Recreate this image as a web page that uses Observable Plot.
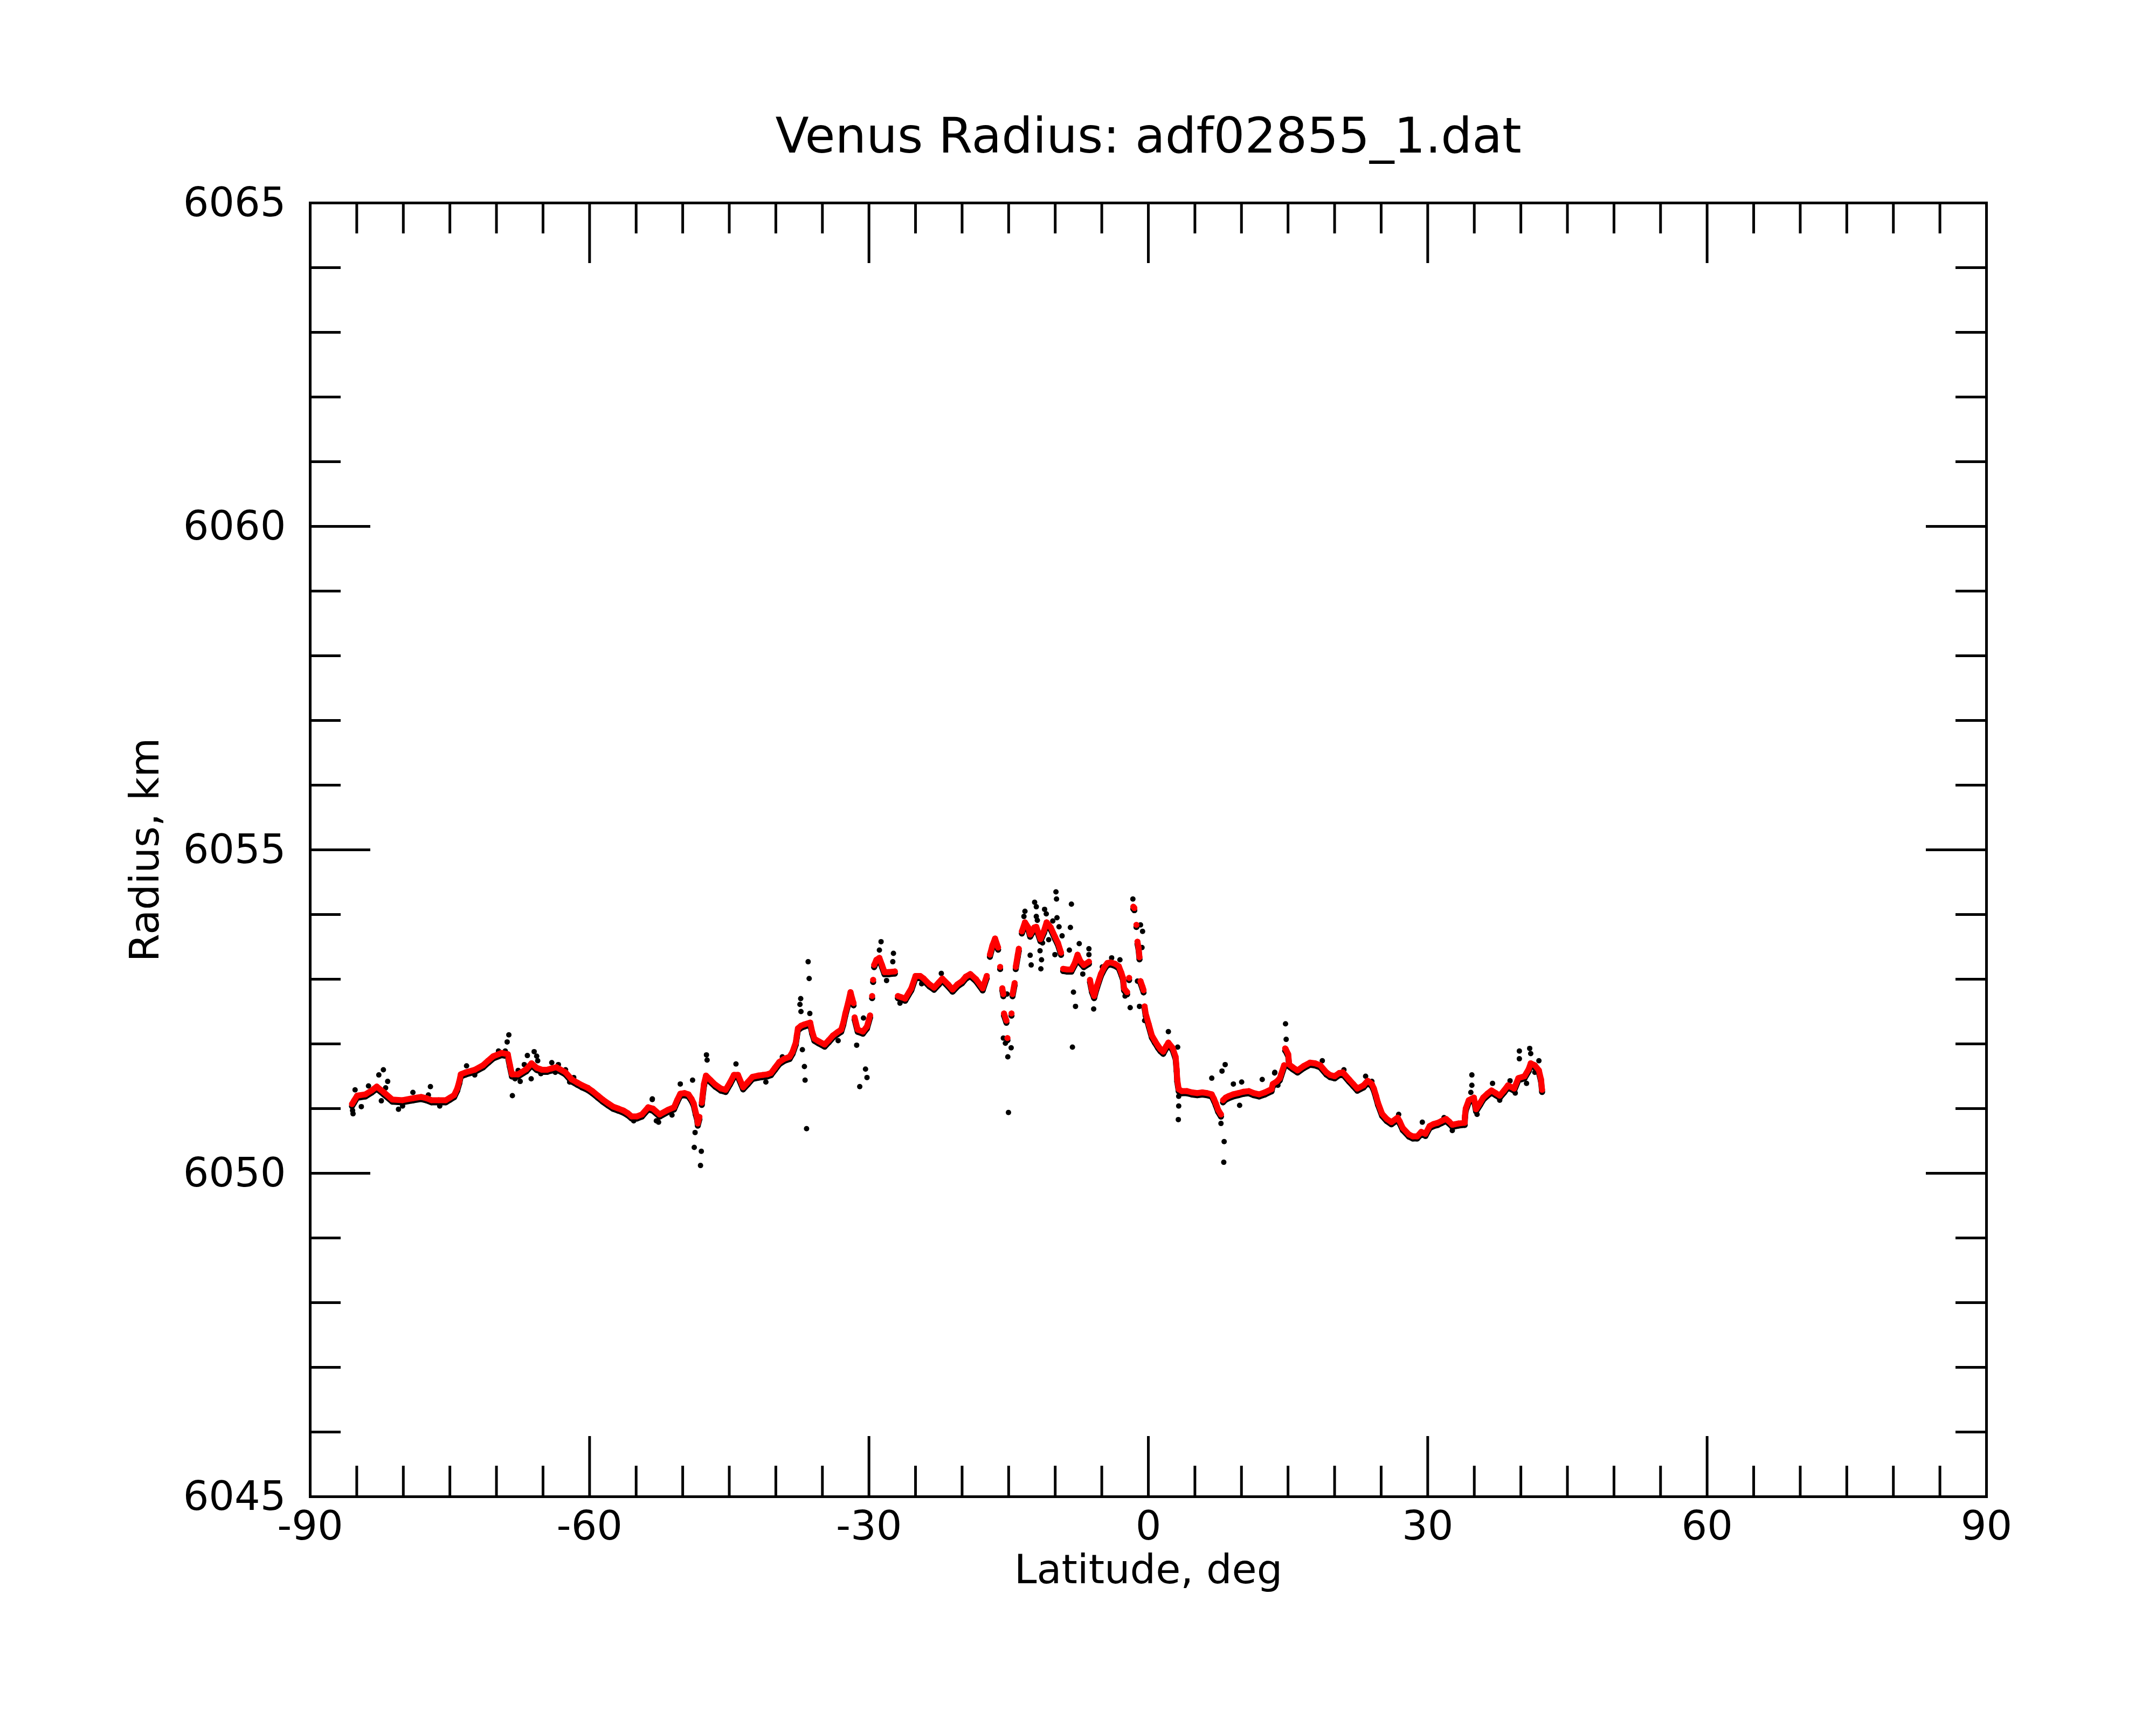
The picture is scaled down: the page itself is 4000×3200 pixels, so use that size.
<!DOCTYPE html>
<html>
<head>
<meta charset="utf-8">
<script src="https://cdn.jsdelivr.net/npm/d3@7"></script>
<script src="https://cdn.jsdelivr.net/npm/@observablehq/plot@0.6"></script>
<style>
  html, body { margin: 0; padding: 0; background: white; }
  svg { display: block; }
</style>
</head>
<body>
<div id="chart"></div>
<script>
const titleText = "Venus Radius: adf02855_1.dat";
const xLabel = "Latitude, deg";
const yLabel = "Radius, km";

const xMajorTicks = [-90, -60, -30, 0, 30, 60, 90];
const xMinorTicks = [-85, -80, -75, -70, -65, -55, -50, -45, -40, -35, -25, -20, -15, -10, -5,
  5, 10, 15, 20, 25, 35, 40, 45, 50, 55, 65, 70, 75, 80, 85];
const yMajorTicks = [6045, 6050, 6055, 6060, 6065];
const yMinorTicks = [6046, 6047, 6048, 6049, 6051, 6052, 6053, 6054, 6056, 6057, 6058, 6059,
  6061, 6062, 6063, 6064];

// smoothed radius (red)
const latRed = [
  -85.51, -85.3, -84.96, -84.07, -83.4, -82.85, -82.08, -81.19, -80.08, -78.97, -78.09, -77.5, -76.98, -76.2, -75.43,
  -74.98, -74.54, -74.21, -73.99, -73.83, -73.3, -72.33, -71.44, -70.9, -70.33, -69.45, -68.78, -68.56, -68.34, -67.67,
  -66.79, -66.23, -65.68, -65.1, -64.57, -64.1, -63.57, -62.58, -61.91, -61.3, -60.8, -60.2, -59.7, -59.1, -58.59,
  -58.0, -57.48, -56.9, -56.37, -55.9, -55.49, -54.9, -54.38, -53.71, -53.2, -52.48, -51.59, -50.93, -50.6, -50.26,
  -49.8, -49.38, -49.05, -48.82, -48.6, -48.45, -48.38, -48.2, -47.95, -47.87, -47.72, -47.5, -47.0, -46.5, -45.9,
  -45.39, -44.9, -44.5, -44.06, -43.51, -43.0, -42.51, -41.9, -41.4, -40.9, -40.52, -40.1, -39.63, -39.1, -38.52,
  -38.2, -37.86, -37.75, -37.63, -37.3, -36.97, -36.31, -36.1, -35.86, -35.4, -34.76, -34.3, -33.87, -33.4, -32.98,
  -32.75, -32.54, -32.25, -31.98, -31.8, -31.65, -31.54, -31.21, -30.65, -30.21, -29.88, -29.66, -29.55, -29.44, -29.2,
  -28.88, -28.6, -28.33, -27.88, -27.22, -26.89, -26.5, -26.11, -25.45, -25.0, -24.5, -24.12, -23.5, -23.01, -22.5,
  -22.12, -21.5, -21.02, -20.5, -20.0, -19.6, -19.12, -18.5, -17.79, -17.35, -17.01, -16.75, -16.46, -16.13, -15.91,
  -15.68, -15.57, -15.5, -15.24, -15.13, -14.69, -14.58, -14.36, -14.24, -14.02, -13.91, -13.58, -13.25, -12.9, -12.69,
  -12.25, -12.03, -11.59, -11.2, -10.92, -10.48, -10.0, -9.7, -9.37, -9.15, -8.7, -8.26, -7.9, -7.6, -7.3,
  -6.93, -6.38, -6.27, -6.05, -5.82, -5.6, -5.49, -5.1, -4.72, -4.4, -4.05, -3.6, -3.17, -2.9, -2.72,
  -2.61, -2.28, -2.06, -1.61, -1.5, -1.28, -1.17, -1.05, -0.95, -0.84, -0.62, -0.51, -0.4, -0.29, 0.05,
  0.38, 0.7, 1.04, 1.3, 1.6, 1.9, 2.15, 2.6, 2.93, 3.04, 3.1, 3.26, 3.6, 4.15, 4.7,
  5.25, 5.8, 6.3, 6.81, 7.05, 7.25, 7.5, 7.8, 8.02, 8.3, 8.58, 9.1, 9.69, 10.2, 10.79,
  11.3, 11.9, 12.5, 13.23, 13.36, 13.8, 14.12, 14.25, 14.58, 14.69, 14.75, 15.02, 15.13, 15.5, 16.02,
  16.7, 17.35, 17.9, 18.46, 19.12, 19.5, 20.01, 20.5, 20.89, 21.56, 22.0, 22.44, 23.11, 23.55, 24.0,
  24.22, 24.45, 24.66, 25.1, 25.6, 26.1, 26.77, 27.0, 27.32, 27.98, 28.4, 28.87, 29.31, 29.76, 30.2,
  30.6, 31.09, 31.5, 31.97, 32.3, 32.64, 33.3, 33.97, 34.0, 34.08, 34.41, 34.96, 35.19, 35.63, 35.96,
  36.4, 36.85, 37.3, 37.73, 38.2, 38.62, 39.28, 39.73, 40.39, 40.84, 41.06, 41.5, 41.94, 42.17, 42.28
];
const radRed = [
  6051.07, 6051.12, 6051.20, 6051.22, 6051.28, 6051.34, 6051.25, 6051.14, 6051.13, 6051.16, 6051.18, 6051.16, 6051.13, 6051.13, 6051.13,
  6051.17, 6051.21, 6051.31, 6051.42, 6051.53, 6051.56, 6051.60, 6051.67, 6051.74, 6051.81, 6051.86, 6051.84, 6051.68, 6051.53, 6051.53,
  6051.61, 6051.70, 6051.63, 6051.60, 6051.60, 6051.62, 6051.64, 6051.56, 6051.45, 6051.40, 6051.36, 6051.32, 6051.27, 6051.20, 6051.14,
  6051.08, 6051.03, 6051.00, 6050.97, 6050.93, 6050.88, 6050.88, 6050.91, 6051.02, 6051.00, 6050.91, 6050.98, 6051.02, 6051.13, 6051.23,
  6051.24, 6051.22, 6051.15, 6051.08, 6050.94, 6050.86, 6050.77, 6050.87, 6051.09, 6051.20, 6051.38, 6051.51, 6051.44, 6051.37, 6051.31,
  6051.29, 6051.41, 6051.52, 6051.52, 6051.33, 6051.41, 6051.49, 6051.51, 6051.52, 6051.53, 6051.55, 6051.63, 6051.72, 6051.77, 6051.80,
  6051.88, 6052.02, 6052.13, 6052.24, 6052.28, 6052.30, 6052.33, 6052.19, 6052.08, 6052.04, 6051.99, 6052.06, 6052.13, 6052.18, 6052.22,
  6052.33, 6052.47, 6052.63, 6052.80, 6052.70, 6052.63, 6052.41, 6052.22, 6052.19, 6052.27, 6052.44, 6052.74, 6052.99, 6053.22, 6053.30,
  6053.33, 6053.22, 6053.11, 6053.11, 6053.12, 6052.74, 6052.72, 6052.70, 6052.86, 6053.05, 6053.05, 6053.01, 6052.92, 6052.87, 6052.95,
  6053.01, 6052.92, 6052.84, 6052.92, 6052.97, 6053.04, 6053.08, 6053.00, 6052.86, 6053.05, 6053.38, 6053.52, 6053.63, 6053.49, 6053.19,
  6052.86, 6052.77, 6052.47, 6052.36, 6052.09, 6052.47, 6052.77, 6052.94, 6053.19, 6053.38, 6053.47, 6053.74, 6053.88, 6053.80, 6053.69,
  6053.80, 6053.81, 6053.62, 6053.75, 6053.88, 6053.80, 6053.65, 6053.56, 6053.41, 6053.16, 6053.15, 6053.15, 6053.25, 6053.38, 6053.28,
  6053.22, 6053.27, 6052.99, 6052.83, 6052.74, 6052.86, 6052.91, 6053.08, 6053.19, 6053.25, 6053.26, 6053.24, 6053.20, 6053.10, 6053.02,
  6052.86, 6052.80, 6053.02, 6054.12, 6054.10, 6053.84, 6053.58, 6053.49, 6053.34, 6052.97, 6052.88, 6052.83, 6052.58, 6052.47, 6052.30,
  6052.13, 6052.05, 6051.97, 6051.92, 6051.88, 6051.96, 6052.02, 6051.94, 6051.80, 6051.61, 6051.45, 6051.30, 6051.27, 6051.27, 6051.25,
  6051.24, 6051.25, 6051.24, 6051.22, 6051.15, 6051.08, 6050.98, 6050.91, 6051.13, 6051.17, 6051.19, 6051.22, 6051.24, 6051.26, 6051.27,
  6051.24, 6051.22, 6051.25, 6051.30, 6051.38, 6051.42, 6051.47, 6051.53, 6051.67, 6051.93, 6051.92, 6051.84, 6051.68, 6051.64, 6051.59,
  6051.66, 6051.71, 6051.70, 6051.67, 6051.56, 6051.52, 6051.50, 6051.55, 6051.56, 6051.45, 6051.38, 6051.31, 6051.36, 6051.43, 6051.38,
  6051.31, 6051.20, 6051.09, 6050.92, 6050.84, 6050.79, 6050.86, 6050.80, 6050.70, 6050.60, 6050.57, 6050.57, 6050.64, 6050.61, 6050.73,
  6050.76, 6050.78, 6050.81, 6050.84, 6050.80, 6050.75, 6050.77, 6050.78, 6050.89, 6051.00, 6051.13, 6051.17, 6050.99, 6051.09, 6051.17,
  6051.23, 6051.28, 6051.24, 6051.20, 6051.28, 6051.36, 6051.31, 6051.47, 6051.50, 6051.61, 6051.70, 6051.67, 6051.59, 6051.45, 6051.29
];

// raw radius samples standing out from the smoothed curve (black)
const latBlack = [
  -85.45, -85.40, -85.18, -84.51, -83.74, -82.63, -82.14, -81.68, -81.90, -82.36, -80.52, -80.08, -78.97, -77.09, -77.31,
  -76.09, -73.21, -72.33, -69.78, -68.67, -68.85, -69.05, -68.29, -68.00, -67.45, -67.67, -66.68, -65.95, -65.68, -65.57,
  -67.01, -66.27, -65.23, -64.06, -63.35, -63.68, -62.58, -61.70, -62.14, -60.14, -56.59, -55.26, -53.27, -52.83,
  -53.26, -52.59, -51.15, -50.26, -48.94, -48.67, -48.76, -48.00, -48.09, -47.45, -47.38, -44.28, -41.07, -39.30,
  -37.33, -37.41, -37.30, -36.53, -36.42, -36.35, -37.15, -36.93, -36.86, -36.70, -33.31, -31.32, -30.59, -30.37,
  -30.21, -30.99, -28.70, -28.88, -27.37, -27.44, -28.11, -26.67, -24.34, -22.23,
  -9.92, -9.86, -8.26, -8.37, -12.21, -12.03, -13.25, -13.36, -11.14, -10.96, -12.03, -11.92, -9.81, -10.26, -9.59,
  -9.26, -10.70, -11.36, -11.63, -12.69, -12.58, -11.47, -11.54, -10.03, -8.48, -7.42, -6.38, -6.38, -7.04, -8.04,
  -7.82, -8.15, -5.87, -4.94, -3.94, -3.05, -2.50, -1.95, -0.95, -1.66, -0.84, -0.62, -0.68, -1.17, -15.18,
  -15.57, -15.35, -14.73, -15.09, -15.02, -0.40, 2.15, 3.15, 3.26, 3.26, 3.22, 6.81, 7.91, 8.25, 7.80,
  8.14, 8.10, 9.13, 9.80, 10.02, 12.23, 13.56,
  14.73, 14.80, 13.58, 13.91, 18.68, 21.00, 23.33, 24.00, 26.88, 29.42, 31.75, 32.64, 34.74, 34.74, 34.63,
  35.30, 36.96, 37.73, 38.84, 39.40, 39.84, 39.84, 40.95, 41.06, 40.61, 41.50, 41.94
];
const radBlack = [
  6050.97, 6050.92, 6051.29, 6051.03, 6051.35, 6051.52, 6051.60, 6051.42, 6051.32, 6051.12, 6050.99, 6051.04, 6051.25, 6051.34, 6051.21,
  6051.04, 6051.66, 6051.52, 6051.89, 6052.14, 6052.03, 6051.89, 6051.20, 6051.46, 6051.42, 6051.59, 6051.82, 6051.88, 6051.81, 6051.74,
  6051.68, 6051.46, 6051.54, 6051.71, 6051.68, 6051.56, 6051.60, 6051.48, 6051.41, 6051.32, 6050.95, 6050.81, 6051.14, 6050.81,
  6051.15, 6050.79, 6050.90, 6051.38, 6051.44, 6050.63, 6050.40, 6050.34, 6050.12, 6051.83, 6051.75, 6051.69, 6051.41, 6051.80,
  6052.70, 6052.61, 6052.50, 6053.27, 6053.01, 6052.47, 6051.91, 6051.65, 6051.44, 6050.69, 6052.05, 6051.98, 6052.40, 6051.61,
  6051.48, 6051.34, 6053.58, 6053.45, 6053.40, 6053.27, 6052.98, 6052.63, 6052.93, 6053.09,
  6054.35, 6054.24, 6054.16, 6053.80, 6054.19, 6054.12, 6054.05, 6053.97, 6054.08, 6054.01, 6053.97, 6053.91, 6053.95, 6053.90, 6053.81,
  6053.67, 6053.61, 6053.56, 6053.44, 6053.37, 6053.22, 6053.30, 6053.16, 6053.38, 6053.45, 6053.55, 6053.47, 6053.38, 6053.08, 6052.80,
  6052.58, 6051.95, 6052.54, 6053.19, 6053.33, 6053.30, 6052.74, 6052.56, 6052.58, 6054.24, 6053.84, 6053.74, 6053.49, 6052.97, 6052.77,
  6052.09, 6052.01, 6051.94, 6051.80, 6050.94, 6052.36, 6052.19, 6051.95, 6051.19, 6051.04, 6050.83, 6051.47, 6051.58, 6051.68, 6050.77,
  6050.49, 6050.17, 6051.38, 6051.05, 6051.41, 6051.45, 6051.55,
  6052.31, 6052.07, 6051.56, 6051.36, 6051.74, 6051.60, 6051.50, 6051.42, 6050.91, 6050.79, 6050.86, 6050.66, 6051.52, 6051.36, 6051.25,
  6050.91, 6051.39, 6051.13, 6051.43, 6051.24, 6051.89, 6051.77, 6051.93, 6051.85, 6051.39, 6051.56, 6051.74
];

const red = latRed.map((lat, i) => ({lat, r: radRed[i]}));
let seg = 0;
red.forEach((d, i) => {
  if (i > 0) {
    const p = red[i - 1];
    if (Math.abs(d.r - p.r) > 0.2 || d.lat - p.lat > 1.5) seg++;
  }
  d.seg = seg;
});
const black = latBlack.map((lat, i) => ({lat, r: radBlack[i]}));

const W = 4000, H = 3200;
const mL = 575, mR = 315, mT = 376, mB = 424;
const fw = W - mL - mR, fh = H - mT - mB;
const majorLen = 112, minorLen = 57, sw = 5;

const chart = Plot.plot({
  width: W, height: H,
  marginLeft: mL, marginRight: mR, marginTop: mT, marginBottom: mB,
  x: {domain: [-90, 90]},
  y: {domain: [6045, 6065]},
  style: {fontFamily: "DejaVu Sans", background: "white", color: "black"},
  marks: [
    // data: black shadow of the raw samples, raw outliers, then smoothed red
    Plot.line(red, {x: "lat", y: "r", z: "seg", stroke: "black", strokeWidth: 11, dy: 4}),
    Plot.dot(red, {x: "lat", y: "r", r: 5.5, fill: "black", dy: 4}),
    Plot.dot(black, {x: "lat", y: "r", r: 5, fill: "black"}),
    Plot.line(red, {x: "lat", y: "r", z: "seg", stroke: "#ff0000", strokeWidth: 11}),
    Plot.dot(red, {x: "lat", y: "r", r: 5.5, fill: "#ff0000"}),
    // frame + inward ticks on all four sides
    Plot.frame({stroke: "black", strokeWidth: sw}),
    Plot.ruleX(xMajorTicks, {x: d => d, insetTop: fh - majorLen, strokeWidth: sw}),
    Plot.ruleX(xMajorTicks, {x: d => d, insetBottom: fh - majorLen, strokeWidth: sw}),
    Plot.ruleX(xMinorTicks, {x: d => d, insetTop: fh - minorLen, strokeWidth: sw}),
    Plot.ruleX(xMinorTicks, {x: d => d, insetBottom: fh - minorLen, strokeWidth: sw}),
    Plot.ruleY(yMajorTicks, {y: d => d, insetRight: fw - majorLen, strokeWidth: sw}),
    Plot.ruleY(yMajorTicks, {y: d => d, insetLeft: fw - majorLen, strokeWidth: sw}),
    Plot.ruleY(yMinorTicks, {y: d => d, insetRight: fw - minorLen, strokeWidth: sw}),
    Plot.ruleY(yMinorTicks, {y: d => d, insetLeft: fw - minorLen, strokeWidth: sw}),
    // tick labels
    Plot.axisX(xMajorTicks, {anchor: "bottom", tickSize: 0, tickPadding: 26, fontSize: 75, tickFormat: d => String(d), label: null}),
    Plot.axisY(yMajorTicks, {anchor: "left", tickSize: 0, tickPadding: 45, fontSize: 75, tickFormat: d => String(d), label: null}),
    // titles
    Plot.text([titleText], {frameAnchor: "top", dy: -94, lineAnchor: "bottom", textAnchor: "middle", fontSize: 91, fill: "black"}),
    Plot.text([xLabel], {frameAnchor: "bottom", dy: 160, lineAnchor: "bottom", textAnchor: "middle", fontSize: 75, fill: "black"}),
    Plot.text([yLabel], {frameAnchor: "left", dx: -282, rotate: -90, lineAnchor: "bottom", textAnchor: "middle", fontSize: 75, fill: "black"})
  ]
});
document.getElementById("chart").appendChild(chart);
</script>
</body>
</html>
